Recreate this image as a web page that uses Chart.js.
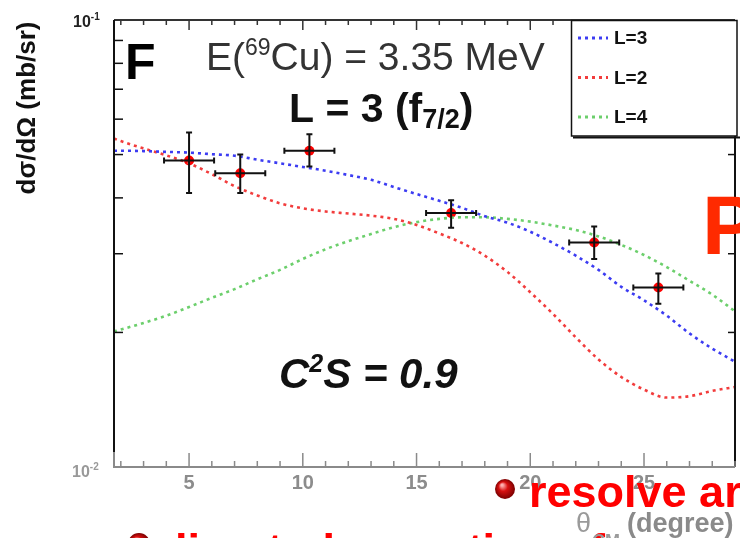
<!DOCTYPE html>
<html>
<head>
<meta charset="utf-8">
<script src="https://cdn.jsdelivr.net/npm/chart.js@4.4.0/dist/chart.umd.min.js"></script>
<style>
  html, body { margin: 0; padding: 0; background: #fff; }
</style>
</head>
<body>
<canvas id="grafico" width="740" height="538"></canvas>
<script>
// angulos (graus, CM) onde as curvas DWBA foram calculadas
const angulos = [1.7, 2, 3, 4, 5, 6, 7, 8, 9, 10, 11, 12, 13, 14, 15, 16, 17, 18, 19, 20, 21, 22, 23, 24, 25, 26, 27, 28, 29];

// secao de choque (mb/sr) para cada L
const curvaL3 = [0.0510, 0.0510, 0.0509, 0.0507, 0.0505, 0.0501, 0.0497, 0.0487, 0.0478, 0.0469, 0.0460, 0.0450, 0.0439, 0.0423, 0.0408, 0.0394, 0.0380, 0.0364, 0.0352, 0.0336, 0.0317, 0.0297, 0.0276, 0.0253, 0.0236, 0.0218, 0.0199, 0.0184, 0.0172];
const curvaL2 = [0.0543, 0.0536, 0.0516, 0.0498, 0.0478, 0.0452, 0.0425, 0.0405, 0.0389, 0.0379, 0.0373, 0.0369, 0.0365, 0.0359, 0.0348, 0.0333, 0.0317, 0.0297, 0.0273, 0.0246, 0.0220, 0.0195, 0.0174, 0.0159, 0.0149, 0.0143, 0.0144, 0.0148, 0.0151];
const curvaL4 = [0.0201, 0.0203, 0.0210, 0.0218, 0.0228, 0.0239, 0.0250, 0.0263, 0.0276, 0.0292, 0.0307, 0.0320, 0.0332, 0.0344, 0.0353, 0.0359, 0.0362, 0.0362, 0.0359, 0.0354, 0.0347, 0.0339, 0.0328, 0.0314, 0.0298, 0.0280, 0.0261, 0.0243, 0.0223];

// pontos medidos
const pontosX = [5.0, 7.25, 10.29, 16.52, 22.81, 25.63];
const pontosY = [0.0485, 0.0454, 0.0510, 0.0370, 0.0318, 0.0252];
const erroX = [1.1, 1.1, 1.1, 1.1, 1.1, 1.1];
const erroBaixo = [0.0410, 0.0410, 0.0470, 0.0343, 0.0292, 0.0232];
const erroAlto = [0.0560, 0.0500, 0.0555, 0.0395, 0.0345, 0.0271];

// marcas dos eixos
const ticksX = [2, 3, 4, 5, 6, 7, 8, 9, 10, 11, 12, 13, 14, 15, 16, 17, 18, 19, 20, 21, 22, 23, 24, 25, 26, 27, 28, 29];
const ticksY = [0.02, 0.03, 0.04, 0.05, 0.06, 0.07, 0.08, 0.09];

const legendas = ['L=3', 'L=2', 'L=4'];
const cores = ['#3c3cf2', '#f23c3c', '#6ccf6c'];

const FONTE = '"Liberation Sans", Arial, sans-serif';

function curva(valores) {
    return angulos.map((a, i) => ({ x: a, y: valores[i] }));
}

// escreve pedacos de texto em sequencia (para sobrescritos/subscritos)
function trechos(ctx, x, y, partes, cor) {
    ctx.fillStyle = cor;
    ctx.textAlign = 'left';
    ctx.textBaseline = 'alphabetic';
    for (const [t, f, dy] of partes) {
        ctx.font = f;
        ctx.fillText(t, x, y + (dy || 0));
        x += ctx.measureText(t).width;
    }
}

function bolinha(ctx, cx, cy, r) {
    const g = ctx.createRadialGradient(cx - 3, cy - 4, 1, cx, cy, r);
    g.addColorStop(0, '#ffb0b0');
    g.addColorStop(0.4, '#d81010');
    g.addColorStop(1, '#7a0000');
    ctx.fillStyle = g;
    ctx.beginPath(); ctx.arc(cx, cy, r, 0, Math.PI * 2); ctx.fill();
}

const desenho = {
    id: 'desenho',
    afterDatasetsDraw(chart) {
        const { ctx, scales: { x, y } } = chart;
        ctx.save();
        ctx.strokeStyle = '#111';
        ctx.lineWidth = 2;
        pontosX.forEach((v, i) => {
            const px = x.getPixelForValue(v);
            const py = y.getPixelForValue(pontosY[i]);
            const x0 = x.getPixelForValue(v - erroX[i]);
            const x1 = x.getPixelForValue(v + erroX[i]);
            const y0 = y.getPixelForValue(erroBaixo[i]);
            const y1 = y.getPixelForValue(erroAlto[i]);
            ctx.beginPath();
            ctx.moveTo(x0, py); ctx.lineTo(x1, py);
            ctx.moveTo(px, y0); ctx.lineTo(px, y1);
            ctx.moveTo(x0, py - 3); ctx.lineTo(x0, py + 3);
            ctx.moveTo(x1, py - 3); ctx.lineTo(x1, py + 3);
            ctx.moveTo(px - 3, y0); ctx.lineTo(px + 3, y0);
            ctx.moveTo(px - 3, y1); ctx.lineTo(px + 3, y1);
            ctx.stroke();
        });
        ctx.restore();
    },
    afterDraw(chart) {
        const { ctx, chartArea: a, scales: { x, y } } = chart;
        ctx.save();

        // moldura
        ctx.lineWidth = 2;
        ctx.strokeStyle = '#333';
        ctx.beginPath(); ctx.moveTo(a.left, a.top); ctx.lineTo(a.right, a.top); ctx.stroke();
        ctx.strokeStyle = '#111';
        ctx.beginPath(); ctx.moveTo(a.left, a.top); ctx.lineTo(a.left, a.bottom - 15); ctx.stroke();
        ctx.beginPath(); ctx.moveTo(a.right, a.top); ctx.lineTo(a.right, a.bottom); ctx.stroke();
        ctx.strokeStyle = '#8a8a8a';
        ctx.beginPath(); ctx.moveTo(a.left, a.bottom - 15); ctx.lineTo(a.left, a.bottom); ctx.lineTo(a.right, a.bottom); ctx.stroke();

        // marcas do eixo x (baixo e topo)
        ctx.lineWidth = 1.5;
        ticksX.forEach(v => {
            const px = x.getPixelForValue(v);
            const grande = v % 5 === 0;
            ctx.strokeStyle = '#8a8a8a';
            ctx.beginPath(); ctx.moveTo(px, a.bottom); ctx.lineTo(px, a.bottom - (grande ? 14 : 6)); ctx.stroke();
            ctx.strokeStyle = '#333';
            ctx.beginPath(); ctx.moveTo(px, a.top); ctx.lineTo(px, a.top + (grande ? 10 : 5)); ctx.stroke();
        });
        // marcas do eixo y (esquerda e direita)
        ctx.strokeStyle = '#111';
        ticksY.forEach(v => {
            const py = y.getPixelForValue(v);
            ctx.beginPath(); ctx.moveTo(a.left, py); ctx.lineTo(a.left + 9, py); ctx.stroke();
            ctx.beginPath(); ctx.moveTo(a.right, py); ctx.lineTo(a.right - 7, py); ctx.stroke();
        });

        // rotulos 10^-1 e 10^-2
        const topo = y.getPixelForValue(0.1);
        const base = y.getPixelForValue(0.01);
        trechos(ctx, 73, topo + 7, [['10', 'bold 16px ' + FONTE], ['-1', 'bold 10px ' + FONTE, -7]], '#222');
        trechos(ctx, 72, base + 10, [['10', 'bold 16px ' + FONTE], ['-2', 'bold 10px ' + FONTE, -7]], '#999');

        // titulo do eixo y
        ctx.save();
        ctx.translate(28, 108);
        ctx.rotate(-Math.PI / 2);
        ctx.fillStyle = '#111';
        ctx.font = 'bold 26px ' + FONTE;
        ctx.textAlign = 'center';
        ctx.textBaseline = 'middle';
        ctx.fillText('d\u03c3/d\u03a9 (mb/sr)', 0, 0);
        ctx.restore();

        // itens vermelhos em baixo (a segunda linha fica quase toda fora do quadro)
        bolinha(ctx, 505, 489, 10);
        trechos(ctx, 529, 507, [['resolve ar', 'bold 45px ' + FONTE]], '#ff0000');
        bolinha(ctx, 139, 544, 11);
        trechos(ctx, 160, 565, [['direct observation of', 'bold 45px ' + FONTE]], '#ff0000');

        // titulo do eixo x
        trechos(ctx, 576, 532, [['\u03b8', '27px ' + FONTE]], '#9a9a9a');
        trechos(ctx, 592, 547, [['CM', 'bold 18px ' + FONTE]], '#9a9a9a');
        trechos(ctx, 627, 532, [['(degree)', 'bold 27px ' + FONTE]], '#8a8a8a');

        // legenda
        ctx.fillStyle = '#fff';
        ctx.fillRect(571, 20, 166, 116);
        ctx.strokeStyle = '#111';
        ctx.lineWidth = 1.5;
        ctx.strokeRect(571.5, 20.5, 165.5, 115.5);
        ctx.lineWidth = 2;
        ctx.beginPath(); ctx.moveTo(573, 137.5); ctx.lineTo(740, 137.5); ctx.stroke();
        legendas.forEach((txt, i) => {
            const ly = 38 + i * 39.5;
            ctx.strokeStyle = cores[i];
            ctx.lineWidth = 3;
            ctx.setLineDash([3, 4]);
            ctx.beginPath(); ctx.moveTo(578, ly); ctx.lineTo(608, ly); ctx.stroke();
            ctx.setLineDash([]);
            ctx.fillStyle = '#111';
            ctx.font = 'bold 19px ' + FONTE;
            ctx.textAlign = 'left';
            ctx.textBaseline = 'middle';
            ctx.fillText(txt, 614, ly + 1);
        });

        // textos do painel
        trechos(ctx, 125, 79, [['F', 'bold 50px ' + FONTE]], '#000');
        trechos(ctx, 206, 70, [['E(', '39px ' + FONTE], ['69', '23px ' + FONTE, -15], ['Cu) = 3.35 MeV', '39px ' + FONTE]], '#333');
        trechos(ctx, 289, 122, [['L = 3 (f', 'bold 41px ' + FONTE], ['7/2', 'bold 27px ' + FONTE, 6], [')', 'bold 41px ' + FONTE]], '#111');
        trechos(ctx, 279, 388, [['C', 'italic bold 42px ' + FONTE], ['2', 'italic bold 25px ' + FONTE, -16], ['S = 0.9', 'italic bold 42px ' + FONTE]], '#111');
        trechos(ctx, 702, 254, [['P', 'bold 84px ' + FONTE]], '#ff2a00');

        ctx.restore();
    }
};

const config = {
    type: 'line',
    data: {
        datasets: [{
            label: legendas[0],
            data: curva(curvaL3),
            borderColor: cores[0],
            borderWidth: 2.6,
            borderDash: [3, 4],
            pointRadius: 0,
            cubicInterpolationMode: 'monotone'
        }, {
            label: legendas[1],
            data: curva(curvaL2),
            borderColor: cores[1],
            borderWidth: 2.6,
            borderDash: [3, 4],
            pointRadius: 0,
            cubicInterpolationMode: 'monotone'
        }, {
            label: legendas[2],
            data: curva(curvaL4),
            borderColor: cores[2],
            borderWidth: 2.6,
            borderDash: [3, 4],
            pointRadius: 0,
            cubicInterpolationMode: 'monotone'
        }, {
            label: 'dados',
            data: pontosX.map((v, i) => ({ x: v, y: pontosY[i] })),
            showLine: false,
            pointRadius: 5,
            pointBackgroundColor: '#ff0000',
            pointBorderWidth: 0
        }]
    },
    options: {
        responsive: false,
        animation: false,
        layout: { padding: { top: 20, right: 3, left: 0, bottom: 0 } },
        plugins: {
            legend: { display: false },
            tooltip: { enabled: false }
        },
        scales: {
            x: {
                type: 'linear',
                min: 1.7,
                max: 29,
                grid: { display: false, drawTicks: false },
                border: { display: false },
                afterFit: s => { s.height = 71; },
                afterBuildTicks: s => { s.ticks = ticksX.map(v => ({ value: v })); },
                ticks: {
                    autoSkip: false,
                    maxRotation: 0,
                    padding: 4,
                    color: '#8c8c8c',
                    font: { family: FONTE, size: 20, weight: 'bold' },
                    callback: v => (v % 5 === 0 ? String(v) : '')
                }
            },
            y: {
                type: 'logarithmic',
                min: 0.01,
                max: 0.1,
                grid: { display: false },
                border: { display: false },
                afterFit: s => { s.width = 114; },
                afterBuildTicks: s => { s.ticks = ticksY.map(v => ({ value: v })); },
                ticks: { display: false }
            }
        }
    },
    plugins: [desenho]
};

const grafico = new Chart(document.getElementById('grafico'), config);
</script>
</body>
</html>
